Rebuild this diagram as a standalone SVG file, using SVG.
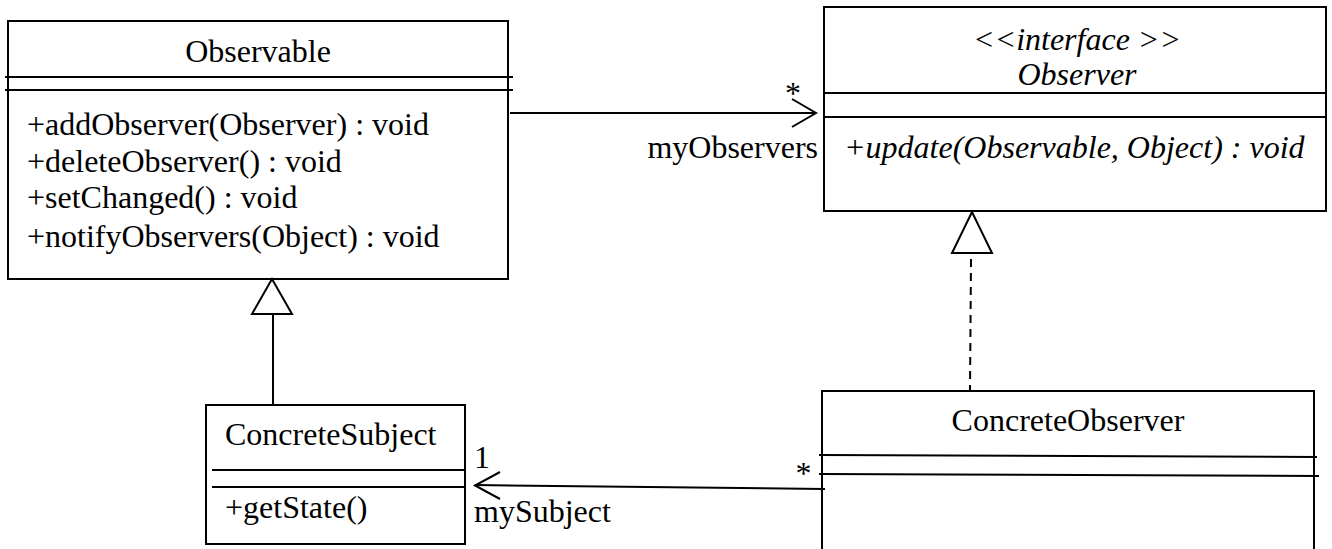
<svg xmlns="http://www.w3.org/2000/svg" width="1332" height="549" viewBox="0 0 1332 549">
  <style>
    .box { fill: #ffffff; stroke: #000000; stroke-width: 2; }
    .rule { stroke: #000000; stroke-width: 2; fill: none; }
    .lbl { font-family: "Liberation Serif", "Times New Roman", serif; font-size: 32px; fill: #000000; }
    .it { font-style: italic; }
    .mid { text-anchor: middle; }
    .end { text-anchor: end; }
    .edge { stroke: #000000; stroke-width: 2; fill: none; }
    .dash { stroke-dasharray: 8 6; }
    .head { stroke: #000000; stroke-width: 2; fill: #ffffff; }
  </style>
  <rect x="0" y="0" width="1332" height="549" fill="#ffffff"/>

  <!-- Observable class -->
  <g id="observable">
    <rect class="box" x="8" y="21" width="500" height="258"/>
    <line class="rule" x1="5" y1="77" x2="513" y2="77"/>
    <line class="rule" x1="5" y1="90" x2="513" y2="90"/>
    <text class="lbl mid" x="258" y="62">Observable</text>
    <text class="lbl" x="27" y="135">+addObserver(Observer) : void</text>
    <text class="lbl" x="27" y="172">+deleteObserver() : void</text>
    <text class="lbl" x="27" y="208">+setChanged() : void</text>
    <text class="lbl" x="27" y="247">+notifyObservers(Object) : void</text>
  </g>

  <!-- Observer interface -->
  <g id="observer">
    <rect class="box" x="824" y="7" width="502" height="204"/>
    <line class="rule" x1="824" y1="93" x2="1326" y2="93"/>
    <line class="rule" x1="824" y1="117" x2="1326" y2="117"/>
    <text class="lbl it mid" x="1077" y="50">&lt;&lt;interface &gt;&gt;</text>
    <text class="lbl it mid" x="1077" y="85">Observer</text>
    <text class="lbl it" x="844" y="158">+update(Observable, Object) : void</text>
  </g>

  <!-- ConcreteSubject class -->
  <g id="concrete-subject">
    <rect class="box" x="206" y="405" width="259" height="139"/>
    <line class="rule" x1="212" y1="470" x2="465" y2="470"/>
    <line class="rule" x1="212" y1="487" x2="465" y2="487"/>
    <text class="lbl" x="225" y="445">ConcreteSubject</text>
    <text class="lbl" x="225" y="518">+getState()</text>
  </g>

  <!-- ConcreteObserver class (runs past the lower edge) -->
  <g id="concrete-observer">
    <path class="box" d="M822,560 V391 H1314 V560"/>
    <line class="rule" x1="819" y1="455" x2="1317" y2="457"/>
    <line class="rule" x1="819" y1="474" x2="1319" y2="476"/>
    <text class="lbl mid" x="1068" y="431">ConcreteObserver</text>
  </g>

  <!-- Connectors -->
  <g id="connectors">
    <!-- Observable -> Observer association -->
    <line class="edge" x1="510" y1="113" x2="816" y2="113"/>
    <polyline class="edge" points="792,99 816,113 792,127"/>
    <text class="lbl mid" x="793" y="104">*</text>
    <text class="lbl end" x="818" y="158">myObservers</text>

    <!-- ConcreteSubject generalizes Observable -->
    <line class="edge" x1="273" y1="314" x2="273" y2="405"/>
    <polygon class="head" points="272,279 252,314 292,314"/>

    <!-- ConcreteObserver realizes Observer -->
    <line class="edge dash" x1="971" y1="259" x2="970" y2="391"/>
    <polygon class="head" points="972,212 952,253 992,253"/>

    <!-- ConcreteObserver -> ConcreteSubject association -->
    <line class="edge" x1="825" y1="489" x2="475" y2="485"/>
    <polyline class="edge" points="500,472 475,485.5 500,499"/>
    <text class="lbl" x="474" y="468">1</text>
    <text class="lbl" x="474" y="522">mySubject</text>
    <text class="lbl mid" x="803.5" y="484">*</text>
  </g>
</svg>
